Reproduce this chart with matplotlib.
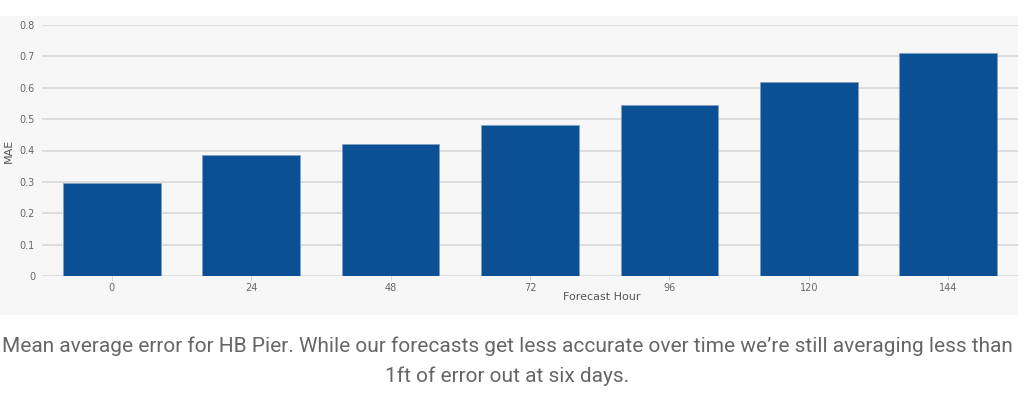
import matplotlib.pyplot as plt
from matplotlib.patches import Rectangle

# Data
hours = ["0", "24", "48", "72", "96", "120", "144"]
mae = [0.295, 0.386, 0.421, 0.481, 0.544, 0.617, 0.712]
yticks = [0, 0.1, 0.2, 0.3, 0.4, 0.5, 0.6, 0.7, 0.8]
ytick_labels = ["0", "0.1", "0.2", "0.3", "0.4", "0.5", "0.6", "0.7", "0.8"]

caption = ("Mean average error for HB Pier. While our forecasts get less accurate over time we\u2019re still averaging less than\n"
           "1ft of error out at six days.")

W, H = 1031, 395
fig = plt.figure(figsize=(W / 100, H / 100), dpi=100)

panel = "#f7f7f7"
fig.patches.append(Rectangle((0, 1 - 315 / H), 1018 / W, (315 - 16) / H,
                             transform=fig.transFigure, facecolor=panel,
                             edgecolor="none", zorder=-10))

ax_w = 1018 - 42
ax_h = 276 - 25
ax = fig.add_axes([42 / W, 1 - 276 / H, ax_w / W, ax_h / H])
ax.set_facecolor(panel)
x = range(len(hours))
ax.bar(x, mae, width=0.7, color="#0b4f95", edgecolor="#7f9fc4", linewidth=0.4, zorder=3)

ax.set_xlim(-0.5, len(hours) - 0.5)
ax.set_ylim(0, 0.8)
ax.set_yticks(yticks)
ax.set_yticklabels(ytick_labels)
ax.set_xticks(list(x))
ax.set_xticklabels(hours)
ax.grid(axis="y", color="#d6d6d6", linewidth=1.1, zorder=0)
for s in ax.spines.values():
    s.set_visible(False)
ax.tick_params(axis="y", length=0, pad=5, labelsize=7, labelcolor="#666666")
ax.tick_params(axis="x", length=3, width=0.6, color="#cccccc", pad=2,
               labelsize=7, labelcolor="#666666")

ax.set_xlabel("Forecast Hour", fontsize=8, color="#555555", va="top")
ax.xaxis.set_label_coords((602 - 42) / ax_w, -16 / ax_h)
ax.set_ylabel("MAE", fontsize=8, color="#555555")
ax.yaxis.set_label_coords(-28 / ax_w, 0.5)

lines = caption.split("\n")
fig.text(0.492, 1 - 346 / H, lines[0], ha="center", va="center",
         fontsize=15, color="#666666", family="Roboto")
fig.text(0.492, 1 - 376 / H, lines[1], ha="center", va="center",
         fontsize=15, color="#666666", family="Roboto")

fig.savefig("out.png", dpi=100)
